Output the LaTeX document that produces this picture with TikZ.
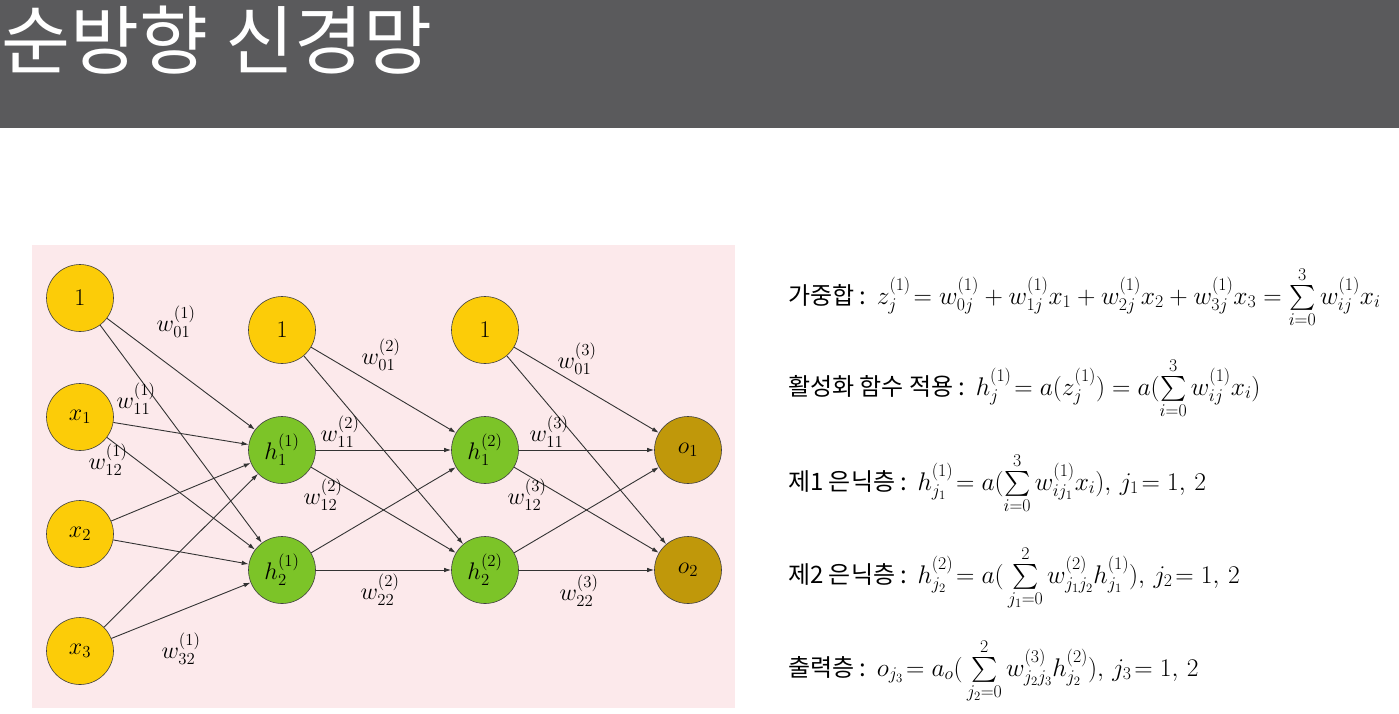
\documentclass[tikz,border=0pt]{standalone}
\usepackage{fix-cm}
\usepackage{amsmath}
\usepackage{fontspec}
\newfontfamily\kofont{Noto Sans CJK KR}
\usetikzlibrary{arrows.meta,math}
\definecolor{titlegray}{RGB}{90,90,92}
\definecolor{panelpink}{RGB}{252,233,235}
\definecolor{unityellow}{RGB}{252,204,8}
\definecolor{hiddengreen}{RGB}{124,196,40}
\definecolor{outgold}{RGB}{192,152,10}

\begin{document}
\begin{tikzpicture}[x=1pt,y=-1pt,
  neuron/.style={circle,draw=black!75,line width=0.6pt,minimum size=67pt,inner sep=0pt,font=\fontsize{24}{26}\selectfont},
  wlabel/.style={font=\fontsize{24}{26}\selectfont,inner sep=0pt},
  syn/.style={-{Latex[length=7pt,width=4.5pt]},line width=0.9pt,color=black!80},
  eqline/.style={anchor=base west,inner sep=0pt,font=\fontsize{25.5}{28}\selectfont}]
\tikzmath{
\xa=80; \xb=282; \xc=485; \xd=688;
}
\useasboundingbox (0,0) rectangle (1399,713);

% title bar
\fill[titlegray] (0,0) rectangle (1399,128);
\node[anchor=west,inner sep=0pt,text=white,font=\kofont\fontsize{75}{82}\selectfont] (title) at (1,40) {순방향 신경망};

% network panel
\fill[panelpink] (32,245) rectangle (735,708);

\node[neuron,fill=unityellow] (b1) at (\xa,298) {$1$};
\node[neuron,fill=unityellow] (x1) at (\xa,417) {$x_1$};
\node[neuron,fill=unityellow] (x2) at (\xa,534) {$x_2$};
\node[neuron,fill=unityellow] (x3) at (\xa,651) {$x_3$};

\node[neuron,fill=unityellow] (b2) at (\xb,330) {$1$};
\node[neuron,fill=hiddengreen] (h11) at (\xb,450) {$h^{(1)}_1$};
\node[neuron,fill=hiddengreen] (h12) at (\xb,570) {$h^{(1)}_2$};

\node[neuron,fill=unityellow] (b3) at (\xc,330) {$1$};
\node[neuron,fill=hiddengreen] (h21) at (\xc,450) {$h^{(2)}_1$};
\node[neuron,fill=hiddengreen] (h22) at (\xc,570) {$h^{(2)}_2$};

\node[neuron,fill=outgold] (o1) at (\xd,450) {$o_1$};
\node[neuron,fill=outgold] (o2) at (\xd,570) {$o_2$};

\foreach \s in {b1,x1,x2,x3}{
\foreach \t in {h11,h12}{
\draw[syn] (\s) -- (\t);
}
}
\foreach \s in {b2,h11,h12}{
\foreach \t in {h21,h22}{
\draw[syn] (\s) -- (\t);
}
}
\foreach \s in {b3,h21,h22}{
\foreach \t in {o1,o2}{
\draw[syn] (\s) -- (\t);
}
}

% weight labels
\node[wlabel] (w101) at (176,322) {$w^{(1)}_{01}$};
\node[wlabel] (w111) at (136,399) {$w^{(1)}_{11}$};
\node[wlabel] (w112) at (108,460) {$w^{(1)}_{12}$};
\node[wlabel] (w132) at (181,649) {$w^{(1)}_{32}$};
\node[wlabel] (w201) at (381,355) {$w^{(2)}_{01}$};
\node[wlabel] (w211) at (340,432) {$w^{(2)}_{11}$};
\node[wlabel] (w212) at (323,495) {$w^{(2)}_{12}$};
\node[wlabel] (w222) at (380,590) {$w^{(2)}_{22}$};
\node[wlabel] (w301) at (577,359) {$w^{(3)}_{01}$};
\node[wlabel] (w311) at (549,432) {$w^{(3)}_{11}$};
\node[wlabel] (w312) at (527,495) {$w^{(3)}_{12}$};
\node[wlabel] (w322) at (579,591) {$w^{(3)}_{22}$};

% equations
\node[eqline] (eqsum) at (788,304) {{\kofont\fontsize{24}{28}\selectfont 가중합 :} $z^{(1)}_j\!=w^{(1)}_{0j}+w^{(1)}_{1j}x_1+w^{(1)}_{2j}x_2+w^{(1)}_{3j}x_3=\sum\limits_{i=0}^{3}w^{(1)}_{ij}x_i$};
\node[eqline] (eqact) at (788,395) {{\kofont\fontsize{24}{28}\selectfont 활성화 함수 적용 :} $h^{(1)}_j\!=a(z^{(1)}_j)=a(\sum\limits_{i=0}^{3}w^{(1)}_{ij}x_i)$};
\node[eqline] (eqhid1) at (788,490) {{\kofont\fontsize{24}{28}\selectfont 제1 은닉층 :} $h^{(1)}_{j_1}\!=a(\sum\limits_{i=0}^{3}w^{(1)}_{ij_1}x_i),\, j_1\!=1,\,2$};
\node[eqline] (eqhid2) at (788,583) {{\kofont\fontsize{24}{28}\selectfont 제2 은닉층 :} $h^{(2)}_{j_2}\!=a(\,\sum\limits_{j_1=0}^{2}w^{(2)}_{j_1j_2}h^{(1)}_{j_1}),\, j_2\!=1,\,2$};
\node[eqline] (eqout) at (788,676) {{\kofont\fontsize{24}{28}\selectfont 출력층 :} $o_{j_3}\!=a_o(\,\sum\limits_{j_2=0}^{2}w^{(3)}_{j_2j_3}h^{(2)}_{j_2}),\, j_3\!=1,\,2$};
\end{tikzpicture}
\end{document}
